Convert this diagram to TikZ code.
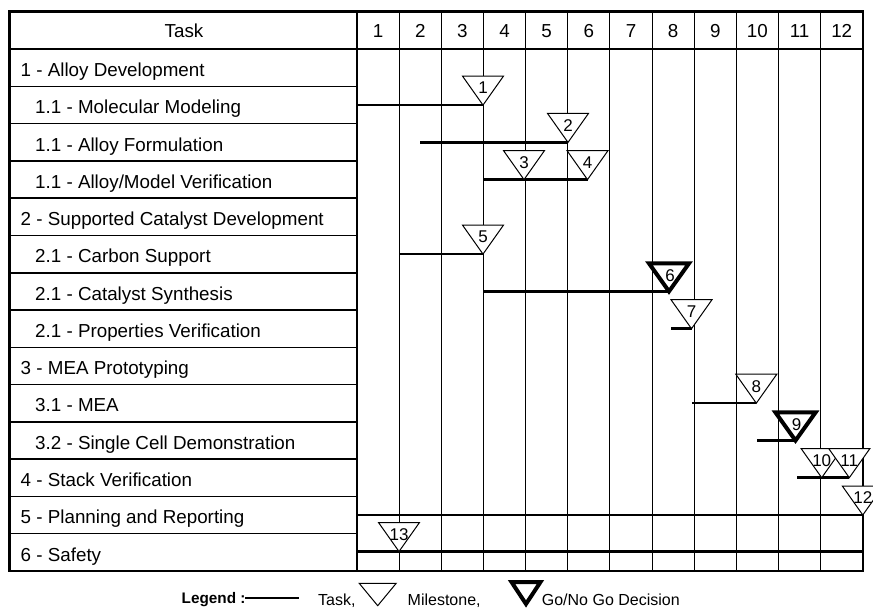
\documentclass[tikz,border=0pt]{standalone}
\usepackage{fontspec}
\setmainfont{Liberation Sans}
\usetikzlibrary{calc}
\begin{document}
\begin{tikzpicture}[x=1pt,y=-1pt,
  gridline/.style={line width=1.1pt},
  rowline/.style={line width=1.5pt},
  frame/.style={line width=2.6pt},
  bar/.style={line width=2.6pt},
  ms/.style={draw, line width=1pt, fill=white, line join=miter},
  gonogo/.style={draw, line width=4pt, fill=white, line join=miter},
  lbl/.style={anchor=base west, inner sep=0pt, font=\fontsize{18.8}{20}\selectfont},
  hdr/.style={anchor=base, inner sep=0pt, font=\fontsize{18.8}{20}\selectfont},
  num/.style={inner sep=0pt, font=\fontsize{17}{18}\selectfont},
  leg/.style={anchor=base west, inner sep=0pt, font=\fontsize{16}{18}\selectfont}]
\useasboundingbox (0,0) rectangle (873,609);
% grid
\foreach \k in {1,...,11} \draw[gridline] ({357+42.15*\k},11.8) -- ({357+42.15*\k},570.8);
\draw[line width=2pt] (357,11.8) -- (357,570.8);
\foreach \k in {1,...,13} \draw[rowline] (9.5,{49.2+37.26*\k}) -- (357,{49.2+37.26*\k});
\draw[frame] (9.5,49.2) -- (862.8,49.2);
\draw[frame] (9.5,11.8) rectangle (862.8,570.8);
% header
\node[hdr] (h0) at (184,38) {Task};
\foreach \k in {1,...,12} \node[hdr] (h\k) at ({357+42.15*(\k-0.5)},38) {\k};
% task labels
\node[lbl] (t0) at (20.5,{49.2+37.26*0.5+8.8}) {1 - Alloy Development};
\node[lbl] (t1) at (35,{49.2+37.26*1.5+8.8}) {1.1 - Molecular Modeling};
\node[lbl] (t2) at (35,{49.2+37.26*2.5+8.8}) {1.1 - Alloy Formulation};
\node[lbl] (t3) at (35,{49.2+37.26*3.5+8.8}) {1.1 - Alloy/Model Verification};
\node[lbl] (t4) at (20.5,{49.2+37.26*4.5+8.8}) {2 - Supported Catalyst Development};
\node[lbl] (t5) at (35,{49.2+37.26*5.5+8.8}) {2.1 - Carbon Support};
\node[lbl] (t6) at (35,{49.2+37.26*6.5+8.8}) {2.1 - Catalyst Synthesis};
\node[lbl] (t7) at (35,{49.2+37.26*7.5+8.8}) {2.1 - Properties Verification};
\node[lbl] (t8) at (20.5,{49.2+37.26*8.5+8.8}) {3 - MEA Prototyping};
\node[lbl] (t9) at (35,{49.2+37.26*9.5+8.8}) {3.1 - MEA};
\node[lbl] (t10) at (35,{49.2+37.26*10.5+8.8}) {3.2 - Single Cell Demonstration};
\node[lbl] (t11) at (20.5,{49.2+37.26*11.5+8.8}) {4 - Stack Verification};
\node[lbl] (t12) at (20.5,{49.2+37.26*12.5+8.8}) {5 - Planning and Reporting};
\node[lbl] (t13) at (20.5,{49.2+37.26*13.5+8.8}) {6 - Safety};
% milestone apexes and bar starts
\coordinate (m1) at (483,105.1);   \coordinate (s1) at (357,105.1);
\coordinate (m2) at (568,142.4);   \coordinate (s2) at (420,142.4);
\coordinate (m3) at (524,179.6);
\coordinate (m4) at (587.5,179.6); \coordinate (s3) at (483,179.6);
\coordinate (m5) at (483,254.1);   \coordinate (s5) at (399,254.1);
\coordinate (m6) at (669,291.4);   \coordinate (s6) at (483,291.4);
\coordinate (m7) at (691.5,328.7); \coordinate (s7) at (671,328.7);
\coordinate (m8) at (756.3,403.2); \coordinate (s9) at (692,403.2);
\coordinate (m9) at (795.5,440.5); \coordinate (s10) at (757,440.5);
\coordinate (m10) at (821.7,477.7);
\coordinate (m11) at (849.3,477.7); \coordinate (s11) at (797,477.7);
\coordinate (m12) at (862.8,515);  \coordinate (s12) at (357,515);
\coordinate (m13) at (399,551.5);  \coordinate (s13) at (357,551.5);
\coordinate (e13) at (862.8,551.5);
% task bars
\draw[bar] (s1) -- (m1);
\draw[bar] (s2) -- (m2);
\draw[bar] (s3) -- (m4);
\draw[bar] (s5) -- (m5);
\draw[bar] (s6) -- (m6);
\draw[bar] (s7) -- (m7);
\draw[bar] (s9) -- (m8);
\draw[bar] (s10) -- (m9);
\draw[bar] (s11) -- (m11);
\draw[bar] (s12) -- (m12);
\draw[bar] (s13) -- (e13);
% milestones
\foreach \i in {1,2,3,4,5,7,8,10,11,12,13} {
  \draw[ms] ($(m\i)+(-20.5,-29)$) -- ($(m\i)+(20.5,-29)$) -- (m\i) -- cycle;
  \node[num] (n\i) at ($(m\i)+(0,-17)$) {\i};
}
\foreach \i in {6,9} {
  \draw[gonogo] ($(m\i)+(-20,-28)$) -- ($(m\i)+(20,-28)$) -- (m\i) -- cycle;
  \node[num] (n\i) at ($(m\i)+(1,-15.5)$) {\i};
}
% legend
\node[anchor=base west, inner sep=0pt, font=\fontsize{15.3}{18}\selectfont\bfseries] (lg) at (181.5,603.5) {Legend :};
\coordinate (la) at (245,597.7); \coordinate (lb) at (299,597.7);
\draw[line width=2pt] (la) -- (lb);
\node[leg] (ltask) at (318,605) {Task,};
\coordinate (lm) at (377.7,605.7);
\draw[ms] ($(lm)+(-18.5,-22.4)$) -- ($(lm)+(18.5,-22.4)$) -- (lm) -- cycle;
\node[leg] (lms) at (407.5,605) {Milestone,};
\coordinate (lgo) at (526,604);
\draw[gonogo] ($(lgo)+(-14.5,-22)$) -- ($(lgo)+(14.5,-22)$) -- (lgo) -- cycle;
\node[leg] (lgn) at (541.7,605) {Go/No Go Decision};
\end{tikzpicture}
\end{document}
